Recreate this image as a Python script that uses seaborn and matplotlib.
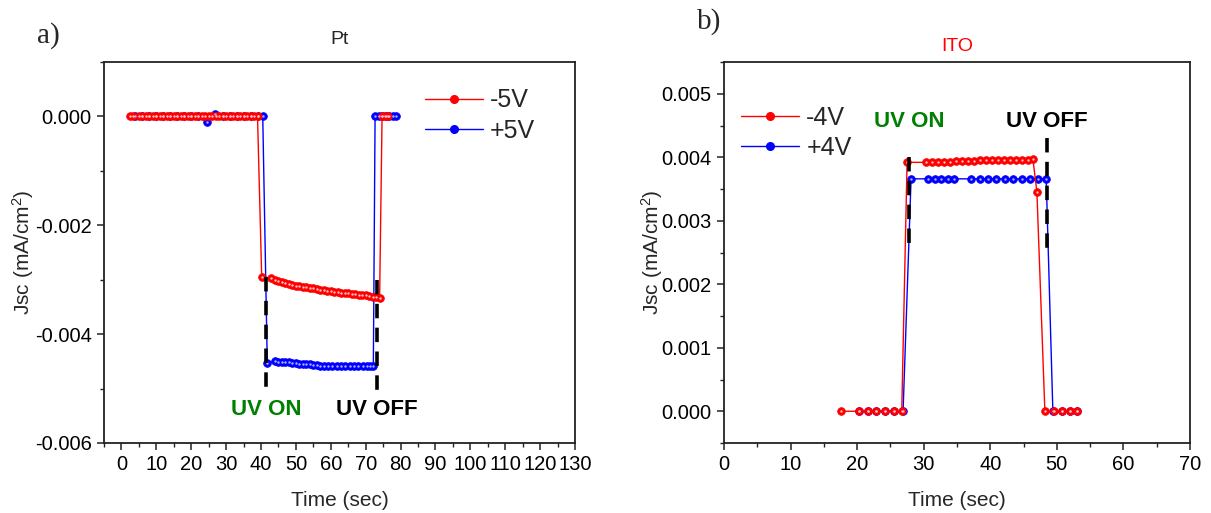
import numpy as np
import pandas as pd
import matplotlib
matplotlib.use("Agg")
import matplotlib.pyplot as plt
from matplotlib.ticker import MultipleLocator, FormatStrFormatter
from matplotlib.lines import Line2D
import seaborn as sns

# ---------------- data: panel a (Pt) ----------------
pt_neg5_time = [2.5, 3.3, 5, 6, 7, 8, 9, 10, 11, 12, 13, 14, 15, 16, 17, 18, 19, 20, 21, 22,
                23, 24, 25, 26, 27, 28, 29, 30, 31, 32, 33, 34, 35, 36, 37, 38, 39,
                40.2,
                43, 44, 45, 46, 47, 48, 49, 50, 51, 52, 53, 54, 55, 56, 57, 58, 59, 60,
                61, 62, 63, 64, 65, 66, 67, 68, 69, 70, 71, 72, 73, 74,
                74.7, 75.6, 76.5]
pt_neg5_jsc = [0.0] * 37 + [-0.00295] + [
    -0.00297, -0.00300, -0.00302, -0.00304, -0.00306, -0.00308, -0.00309, -0.00311,
    -0.00312, -0.00313, -0.00314, -0.00315, -0.00316, -0.00317, -0.00318, -0.00319,
    -0.00320, -0.00321, -0.00322, -0.00323, -0.00324, -0.00325, -0.00325, -0.00326,
    -0.00327, -0.00328, -0.00328, -0.00329, -0.00330, -0.00331, -0.00332, -0.00333,
] + [0.0, 0.0, 0.0]

pt_pos5_time = [3.8, 6, 8, 10, 12, 14, 16, 18, 20, 22, 24.4, 26.9, 29, 31, 33, 35, 37, 39, 40.5,
                41.8,
                44, 45, 46, 47, 48, 49, 50, 51, 52, 53, 54, 55, 56, 57, 58,
                59.2, 60.4, 61.7, 62.9, 64.1, 65.4, 66.6, 67.8, 69.1, 70.3, 71.3, 72.2,
                72.7, 73.7, 74.7, 75.7, 76.7, 77.7, 78.7]
pt_pos5_jsc = [0.0, 0.0, 0.0, 0.0, 0.0, 0.0, 0.0, 0.0, 0.0, 0.0, -0.0001, 0.00004, 0.0, 0.0,
               0.0, 0.0, 0.0, 0.0, 0.0,
               -0.00453,
               -0.00450, -0.00451, -0.00451, -0.00452, -0.00452, -0.00453, -0.00453, -0.00454,
               -0.00454, -0.00455, -0.00455, -0.00456, -0.00457, -0.00458, -0.00459,
               -0.00459, -0.00459, -0.00459, -0.00459, -0.00459, -0.00459, -0.00459, -0.00459,
               -0.00459, -0.00459, -0.00459, -0.00459,
               0.0, 0.0, 0.0, 0.0, 0.0, 0.0, 0.0]

# ---------------- data: panel b (ITO) ----------------
ito_neg4_time = [17.6, 20.3, 21.7, 22.9, 24.2, 25.5, 26.7,
                 27.5,
                 30.4, 31.3, 32.2, 33.1, 34.0, 34.9, 35.8, 36.7, 37.6, 38.5, 39.4, 40.3,
                 41.2, 42.1, 43.0, 43.9, 44.8, 45.6, 46.4,
                 47.0,
                 48.2, 49.5, 50.8, 52.0, 53.1]
ito_neg4_jsc = [0.0] * 7 + [0.00392] + [
    0.00392, 0.00392, 0.00393, 0.00393, 0.00393, 0.00394, 0.00394, 0.00394, 0.00394,
    0.00395, 0.00395, 0.00395, 0.00395, 0.00395, 0.00396, 0.00396, 0.00396, 0.00396,
    0.00397,
] + [0.00346] + [0.0] * 5

ito_pos4_time = [20.3, 21.7, 22.9, 24.2, 25.5, 26.9,
                 28.1, 30.7, 31.7, 32.6, 33.6, 34.5, 37.1, 38.4, 39.7, 40.9, 42.2, 43.4,
                 44.7, 45.9, 47.2, 48.4,
                 49.4, 50.7, 51.9, 53.0]
ito_pos4_jsc = [0.0] * 6 + [0.00366] * 16 + [0.0] * 4

# UV markers (time of switching)
pt_uv_on, pt_uv_off = 41.5, 73.3
ito_uv_on, ito_uv_off = 27.8, 48.5

# ---------------- style ----------------
sns.set_theme(style="ticks")
plt.rcParams["font.family"] = ["Liberation Sans", "DejaVu Sans"]
plt.rcParams["mathtext.fontset"] = "custom"
plt.rcParams["mathtext.rm"] = "Liberation Sans"
plt.rcParams["mathtext.it"] = "Liberation Sans:italic"

RED = "#ff0000"
BLUE = "#0000ff"
GREEN = "#008000"

fig = plt.figure(figsize=(12.11, 5.13), dpi=100)
ax_a = fig.add_axes([104 / 1211, 1 - 443 / 513, 471 / 1211, 381 / 513])
ax_b = fig.add_axes([724 / 1211, 1 - 443 / 513, 466 / 1211, 381 / 513])


def draw_series(ax, t, y, color, hl):
    df = pd.DataFrame({"t": t, "y": y})
    sns.lineplot(data=df, x="t", y="y", ax=ax, color=color, lw=1.0, sort=False,
                 estimator=None, marker="o", markersize=5.5, markeredgecolor=color,
                 markeredgewidth=0.6, legend=False)
    sns.scatterplot(data=df, x="t", y="y", ax=ax, color=hl, s=3, linewidth=0,
                    legend=False, zorder=5)


def style_axes(ax, ypad):
    for s in ax.spines.values():
        s.set_visible(True)
        s.set_color("#222222")
        s.set_linewidth(1.3)
    ax.tick_params(which="major", direction="out", length=5, width=1.1,
                   labelsize=14.5, colors="#222222", labelcolor="black", pad=4)
    ax.tick_params(which="minor", direction="out", length=3, width=1.0, colors="#222222")
    ax.tick_params(top=False, right=False, which="both")
    ax.set_xlabel("Time (sec)", fontsize=15, labelpad=12)
    ax.set_ylabel("Jsc (mA/cm$^2$)", fontsize=15, labelpad=ypad)


def legend(ax, labels, loc, anchor):
    handles = [Line2D([], [], color=RED, lw=1.0, marker="o", markersize=5.5,
                      markeredgecolor=RED),
               Line2D([], [], color=BLUE, lw=1.0, marker="o", markersize=5.5,
                      markeredgecolor=BLUE)]
    ax.legend(handles, labels, loc=loc, bbox_to_anchor=anchor, frameon=False,
              fontsize=18, handlelength=2.3, handletextpad=0.3, labelspacing=0.25,
              borderaxespad=0.2)


# ---- panel a ----
draw_series(ax_a, pt_pos5_time, pt_pos5_jsc, BLUE, "#b0b0ff")
draw_series(ax_a, pt_neg5_time, pt_neg5_jsc, RED, "#ffc0c0")
ax_a.plot([pt_uv_on, pt_uv_on], [-0.00295, -0.0051], color="black", lw=2.6,
          ls=(0, (4.0, 2.6)), zorder=6)
ax_a.plot([pt_uv_off, pt_uv_off], [-0.0030, -0.0051], color="black", lw=2.6,
          ls=(0, (4.0, 2.6)), zorder=6)
ax_a.text(pt_uv_on, -0.00538, "UV ON", color=GREEN, fontsize=16, fontweight="bold",
          ha="center", va="center")
ax_a.text(pt_uv_off, -0.00538, "UV OFF", color="black", fontsize=16, fontweight="bold",
          ha="center", va="center")
ax_a.set_xlim(-5, 130)
ax_a.set_ylim(-0.006, 0.001)
ax_a.xaxis.set_major_locator(MultipleLocator(10))
ax_a.xaxis.set_minor_locator(MultipleLocator(5))
ax_a.yaxis.set_major_locator(MultipleLocator(0.002))
ax_a.yaxis.set_minor_locator(MultipleLocator(0.001))
ax_a.yaxis.set_major_formatter(FormatStrFormatter("%.3f"))
style_axes(ax_a, -1)
ax_a.set_title("Pt", fontsize=14, pad=13)
legend(ax_a, ["-5V", "+5V"], "upper left", (0.65, 0.97))
fig.text(37 / 1211, 1 - 36 / 513, "a)", fontsize=21, family="Liberation Serif",
         ha="left", va="center")

# ---- panel b ----
draw_series(ax_b, ito_pos4_time, ito_pos4_jsc, BLUE, "#b0b0ff")
draw_series(ax_b, ito_neg4_time, ito_neg4_jsc, RED, "#ffc0c0")
ax_b.plot([ito_uv_on, ito_uv_on], [0.0040, 0.0026], color="black", lw=2.6,
          ls=(0, (4.0, 2.6)), zorder=6)
ax_b.plot([ito_uv_off, ito_uv_off], [0.0043, 0.0025], color="black", lw=2.6,
          ls=(0, (4.0, 2.6)), zorder=6)
ax_b.text(ito_uv_on, 0.00457, "UV ON", color=GREEN, fontsize=16, fontweight="bold",
          ha="center", va="center")
ax_b.text(ito_uv_off, 0.00457, "UV OFF", color="black", fontsize=16, fontweight="bold",
          ha="center", va="center")
ax_b.set_xlim(0, 70)
ax_b.set_ylim(-0.0005, 0.0055)
ax_b.xaxis.set_major_locator(MultipleLocator(10))
ax_b.xaxis.set_minor_locator(MultipleLocator(5))
ax_b.yaxis.set_major_locator(MultipleLocator(0.001))
ax_b.yaxis.set_minor_locator(MultipleLocator(0.0005))
ax_b.yaxis.set_major_formatter(FormatStrFormatter("%.3f"))
style_axes(ax_b, -3)
ax_b.set_title("ITO", fontsize=14, color=RED, pad=8)
legend(ax_b, ["-4V", "+4V"], "upper left", (0.005, 0.925))
fig.text(697 / 1211, 1 - 22 / 513, "b)", fontsize=21, family="Liberation Serif",
         ha="left", va="center")

fig.savefig("out.png", dpi=100)
